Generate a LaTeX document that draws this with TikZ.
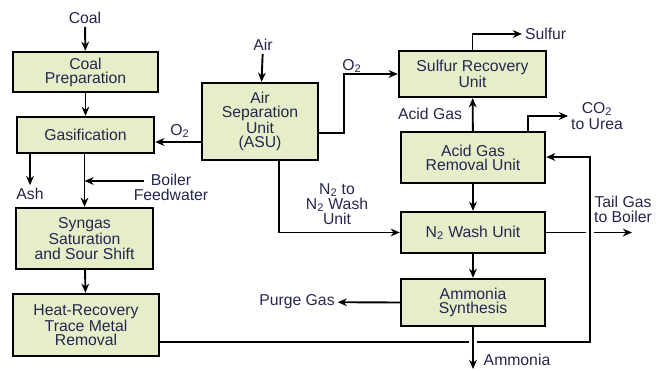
\documentclass[tikz,border=0pt]{standalone}
\usepackage{fontspec}
\setmainfont{Liberation Sans}
\usepackage{tikz}
\usetikzlibrary{arrows.meta,positioning,calc}
\definecolor{unitgreen}{RGB}{229,238,201}
\definecolor{labelnavy}{RGB}{38,38,78}

\begin{document}
\begin{tikzpicture}[x=0.025cm, y=-0.025cm,
        unit/.style={rectangle, draw=black, line width=1.7pt, fill=unitgreen, align=center, inner sep=1pt, text=labelnavy, font=\fontsize{11.2}{10}\selectfont},
        lbl/.style={align=center, inner sep=2pt, text=labelnavy, font=\fontsize{11.2}{10.8}\selectfont},
        flow/.style={->, >={Stealth[length=6.5pt,width=5.5pt]}, line width=1.35pt},
        gap/.style={preaction={draw=white, line width=5pt, shorten <=3pt}}]

      \useasboundingbox (0,0) rectangle (656,370);

      % process units
      \node[unit, minimum width=3.625cm, minimum height=1.0cm] (prep) at (85.5,72) {Coal\\Preparation};
      \node[unit, minimum width=3.425cm, minimum height=0.9cm] (gasif) at (85.5,135) {Gasification};
      \node[unit, minimum width=3.425cm, minimum height=1.525cm] (shift) at (84.5,238.5) {Syngas\\Saturation\\and Sour Shift};
      \node[unit, minimum width=3.65cm, minimum height=1.55cm] (heatrec) at (86,325) {Heat-Recovery\\Trace Metal\\Removal};
      \node[unit, minimum width=2.9cm, minimum height=1.925cm] (asu) at (260,121.5) {Air\\Separation\\Unit\\(ASU)};
      \node[unit, minimum width=3.675cm, minimum height=1.15cm] (sru) at (472.5,74) {Sulfur Recovery\\Unit};
      \node[unit, minimum width=3.6cm, minimum height=1.275cm] (agr) at (473,157.5) {Acid Gas\\Removal Unit};
      \node[unit, minimum width=3.6cm, minimum height=1.025cm] (nwash) at (473,232.5) {N\textsubscript{2} Wash Unit};
      \node[unit, minimum width=3.6cm, minimum height=1.175cm] (synth) at (473,302.5) {Ammonia\\Synthesis};

      % stream labels
      \node[lbl] (coal) at (85,18) {Coal};
      \node[lbl] (ash) at (30,194) {Ash};
      \node[lbl] (bfw) at (171,187) {Boiler\\Feedwater};
      \node[lbl] (air) at (263,45) {Air};
      \node[lbl] (o2left) at (180,131) {O\textsubscript{2}};
      \node[lbl] (o2right) at (352,66) {O\textsubscript{2}};
      \node[lbl] (n2lbl) at (337,204) {N\textsubscript{2} to\\N\textsubscript{2} Wash\\Unit};
      \node[lbl, anchor=west] (sulfur) at (522,34) {Sulfur};
      \node[lbl, font=\fontsize{11.2}{11.6}\selectfont] (co2) at (597,116) {CO\textsubscript{2}\\to Urea};
      \node[lbl] (acidgas) at (430,114) {Acid Gas};
      \node[lbl] (tailgas) at (623,209) {Tail Gas\\to Boiler};
      \node[lbl] (purge) at (297,302) {Purge Gas};
      \node[lbl] (ammonia) at (517,360) {Ammonia};

      \coordinate (bfwin) at (144,181);
      \coordinate (o2out) at (202,142);
      \coordinate (asuo2) at (318,133);
      \coordinate (asun2) at (279,160);
      \coordinate (agrco2) at (528,132);
      \coordinate (hrout) at (159,342);
      \coordinate (tailend) at (632,232.5);
      \coordinate (nh3end) at (473,369);

      % main gas train
      \draw[flow] (coal) -- (prep);
      \draw[flow] (prep) -- (gasif);
      \draw[flow] (gasif.south -| ash) -- (ash);
      \draw[flow] (gasif.south -| shift) -- (shift);
      \draw[flow] (bfwin) -- (bfwin -| shift);
      \draw[flow] (shift) -- (heatrec);

      % air separation
      \draw[flow] (air) -- (asu);
      \draw[flow] (o2out) -- (o2out -| gasif.east);
      \draw[flow] (asuo2) -- ++(26,0) |- (sru.west);
      \draw[flow] (asun2) |- (nwash.west);

      % cleanup and synthesis
      \draw[flow] (sru.north) |- (sulfur.west);
      \draw[flow] (agr) -- (sru);
      \draw[flow] (agrco2) |- (co2.west);
      \draw[flow] (agr) -- (nwash);
      \draw[flow] (nwash) -- (synth);
      \draw[flow] (nwash.east) -- (tailend);
      \draw[flow, gap] (hrout) -- (590,342) -- (590,157) -- (agr.east |- 0,157);
      \draw[flow] (synth.west) -- (purge);
      \draw[flow, gap] (synth.south) -- (nh3end);
    \end{tikzpicture}
\end{document}
